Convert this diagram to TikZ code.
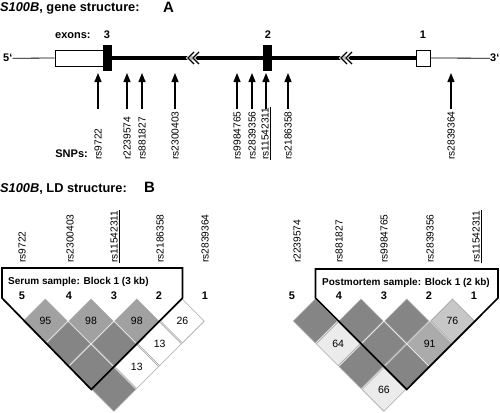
\documentclass[tikz,border=0pt]{standalone}
\usepackage{fontspec}
\setmainfont{Liberation Sans}
\usetikzlibrary{shapes.geometric,arrows.meta}
\newcommand\ldcel[6]{% prefix, x0, a, b, fill, text
  \pgfmathsetmacro\cx{#2+45.7*(#3+#4)/2}%
  \pgfmathsetmacro\cy{321+22.8*(#4-#3-1)}%
  \node[ldcell,fill=#5] (#1#3#4) at (\cx,\cy) {#6};}
\begin{document}
\begin{tikzpicture}[x=1pt,y=-1pt,
  ttl/.style={font=\fontsize{12.8}{15}\selectfont\bfseries, anchor=base west, inner sep=0},
  bigletter/.style={font=\fontsize{15}{17}\selectfont\bfseries, anchor=base west, inner sep=0},
  lab/.style={font=\fontsize{11}{13}\selectfont\bfseries, inner sep=0, anchor=base},
  snp/.style={font=\fontsize{10.2}{12}\selectfont, rotate=90, anchor=west, inner sep=0},
  snparrow/.style={line width=1.2pt, -{Triangle[width=7pt,length=9pt]}},
  utr/.style={draw, fill=white, line width=0.8pt, minimum height=16, inner sep=0},
  cds/.style={draw, fill=black, line width=0.8pt, minimum width=8, minimum height=25, inner sep=0},
  thinline/.style={line width=0.8pt},
  intron/.style={line width=4.5pt},
  chevw/.style={white, line width=3pt},
  chevb/.style={black, line width=1.1pt},
  ldcell/.style={shape=diamond, shape aspect=1, minimum width=44, minimum height=44, inner sep=0,
     draw=black!35, line width=0.6pt, font=\fontsize{10.5}{12}\selectfont},
  blk/.style={line width=1.7pt, line join=miter},
  blktext/.style={font=\fontsize{10}{12}\selectfont\bfseries, anchor=base west, inner sep=0},
]
\useasboundingbox (0,0) rectangle (500,412);
\colorlet{dk}{black!48}
\colorlet{md}{black!37}
\colorlet{mf}{black!33}
\colorlet{lt}{black!22}
\colorlet{vl}{black!8}

% ---------- A: gene structure ----------
\node[ttl] (tA) at (0,12) {\textit{S100B}, gene structure:};
\node[bigletter] (lA) at (163,13) {A};

\node[lab, anchor=base west] (p5) at (3,62) {5‘};
\node[lab, anchor=base west] (p3) at (490,62) {3‘};
\node[utr, minimum width=48] (utr5) at (79,58) {};
\node[utr, minimum width=14] (ex1) at (423,58) {};
\draw[thinline] (p5.east) -- (utr5.west);
\draw[thinline] (ex1.east) -- (p3.west);
\draw[intron] (111,58) -- (ex1.west);
\node[cds] (ex3) at (107,57.5) {};
\node[cds] (ex2) at (267.5,57.5) {};

\foreach \cx in {188,193,341,346}{
  \draw[chevw] (\cx+6,52) -- (\cx,58) -- (\cx+6,64);
  \draw[chevb] (\cx+6,52) -- (\cx,58) -- (\cx+6,64);
}

\node[lab, anchor=base west] (exl) at (55,38) {exons:};
\node[lab] (n3) at (107,38) {3};
\node[lab] (n2) at (268,38) {2};
\node[lab] (n1) at (423,38) {1};

\node[lab, anchor=base east] (snpl) at (88,157) {SNPs:};
\foreach \nm/\sx/\tx in {s1/98/rs9722, s2/127/r2239574, s3/142/rs881827, s4/175/rs2300403,
   s5/237/rs9984765, s6/252/rs2839356, s7/266/\underline{rs11542311}, s8/288/rs2186358, s9/451/rs2839364}{
  \node[snp] (\nm) at (\sx,160) {\tx};
  \coordinate (\nm t) at (\sx,109);
  \coordinate (\nm h) at (\sx,73);
  \draw[snparrow] (\nm t) -- (\nm h);
}

% ---------- B: LD structure ----------
\node[ttl] (tB) at (0,192) {\textit{S100B}, LD structure:};
\node[bigletter] (lB) at (144,192) {B};

\foreach \nm/\sx/\tx in {a1/22/rs9722, a2/70/rs2300403, a3/115/\underline{rs11542311}, a4/160/rs2186358, a5/205/rs2839364,
   b1/297/r2239574, b2/339/rs881827, b3/384/rs9984765, b4/430/rs2839356, b5/477/\underline{rs11542311}}{
  \node[snp] (\nm) at (\sx,263) {\tx};
}
\foreach \nm/\sx/\tx in {m1/22/5, m2/69/4, m3/114/3, m4/159/2, m5/205/1,
   k1/292/5, k2/339/4, k3/384/3, k4/429/2, k5/474/1}{
  \node[lab] (\nm) at (\sx,299) {\tx};
}

% left LD cells
\ldcel{L}{22.5}{0}{1}{md}{95}
\ldcel{L}{22.5}{1}{2}{md}{98}
\ldcel{L}{22.5}{2}{3}{md}{98}
\ldcel{L}{22.5}{3}{4}{white}{26}
\ldcel{L}{22.5}{0}{2}{dk}{}
\ldcel{L}{22.5}{1}{3}{dk}{}
\ldcel{L}{22.5}{2}{4}{white}{13}
\ldcel{L}{22.5}{0}{3}{dk}{}
\ldcel{L}{22.5}{1}{4}{white}{13}
\ldcel{L}{22.5}{0}{4}{dk}{}
% right LD cells
\ldcel{R}{292.5}{0}{1}{dk}{}
\ldcel{R}{292.5}{1}{2}{dk}{}
\ldcel{R}{292.5}{2}{3}{dk}{}
\ldcel{R}{292.5}{3}{4}{lt}{76}
\ldcel{R}{292.5}{0}{2}{vl}{64}
\ldcel{R}{292.5}{1}{3}{dk}{}
\ldcel{R}{292.5}{2}{4}{mf}{91}
\ldcel{R}{292.5}{0}{3}{dk}{}
\ldcel{R}{292.5}{1}{4}{dk}{}
\ldcel{R}{292.5}{0}{4}{vl}{66}

% block outlines
\draw[blk] (2,298) -- (2,268) -- (182.5,268) -- (182.5,298) -- (91.2,389.4) -- cycle;
\draw[blk] (315.5,298) -- (315.5,269) -- (498,269) -- (498,298) -- (406.8,389.4) -- cycle;
\node[blktext] (bt1) at (8,284) {Serum sample: Block 1 (3 kb)};
\node[blktext] (bt2) at (322,285) {Postmortem sample: Block 1 (2 kb)};
\end{tikzpicture}
\end{document}
